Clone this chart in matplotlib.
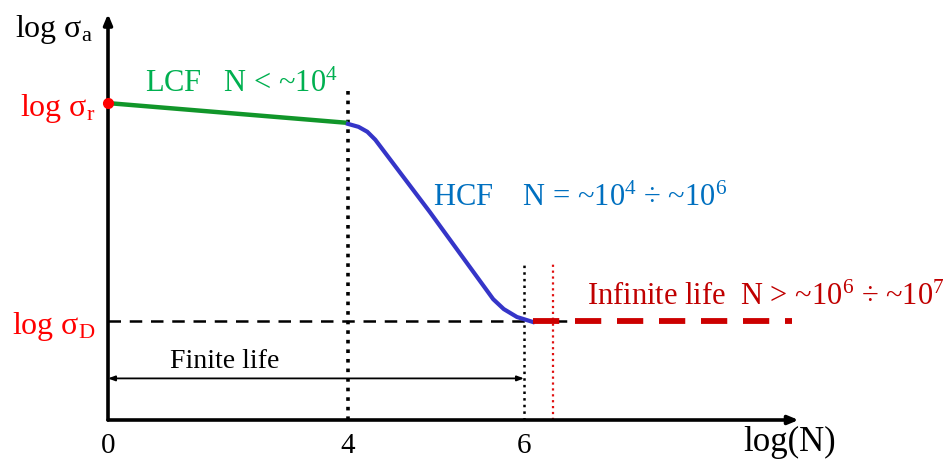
import numpy as np
import matplotlib
matplotlib.use('Agg')
import matplotlib.pyplot as plt

plt.rcParams['font.family'] = ['Liberation Serif', 'DejaVu Serif']
plt.rcParams['mathtext.fontset'] = 'custom'
plt.rcParams['mathtext.rm'] = 'Liberation Serif'
plt.rcParams['mathtext.it'] = 'Liberation Serif:italic'

# S-N curve, schematic (log N, log sigma_a)
lcf_logn = [0.0, 4.0]
lcf_logs = [3.2, 3.0]
hcf_logn = [4.0, 4.12, 4.22, 4.31, 4.93, 5.65, 5.77, 5.92, 6.10]
hcf_logs = [2.99, 2.96, 2.91, 2.83, 2.10, 1.22, 1.12, 1.04, 0.99]
inf_logn = [6.10, 9.05]
log_sigma_r = 3.2
log_sigma_D = 1.0

xtick_pos = [0, 4, 6]
xtick_lab = ['0', '4', '6']
ytick_pos = [log_sigma_r, log_sigma_D]
ytick_lab = [r'log σ$_{\mathregular{r}}$', r'log σ$_{\mathregular{D}}$']

# stretched (non-uniform) log N axis
kx = [-5, 0, 4, 6, 12]
kp = [-300, 0, 240, 416, 944]
fwd = lambda x: np.interp(x, kx, kp)
inv = lambda p: np.interp(p, kp, kx)

fig = plt.figure(figsize=(9.49, 4.64), dpi=100)
ax = fig.add_axes([108/949, 43/464, 702/949, 411/464])
ax.set_xscale('function', functions=(fwd, inv))
ax.set_xlim(0, 9.25)
ax.set_ylim(0, 4.15)
for s in ax.spines.values():
    s.set_visible(False)

# axes with arrow heads
ax.annotate('', xy=(0, 4.1), xytext=(0, 0), annotation_clip=False,
            arrowprops=dict(arrowstyle='-|>,head_length=0.6,head_width=0.25', lw=2.6, color='black', shrinkA=0, shrinkB=0))
ax.annotate('', xy=(9.12, 0), xytext=(0, 0), annotation_clip=False,
            arrowprops=dict(arrowstyle='-|>,head_length=0.6,head_width=0.25', lw=2.6, color='black', shrinkA=0, shrinkB=0))

ax.set_xticks(xtick_pos, xtick_lab, fontsize=21)
ax.set_yticks(ytick_pos, ytick_lab, fontsize=23)
ax.tick_params(axis='x', length=0, pad=9)
ax.tick_params(axis='y', length=0, pad=9, labelcolor='#ff0000')

# guide lines
ax.plot([0, 6.5], [log_sigma_D, log_sigma_D], color='black', lw=1.8, dashes=(5, 3.5))
ax.plot([4, 4], [0, 3.36], color='black', lw=2.6, ls=':')
ax.plot([6, 6], [0, 1.58], color='black', lw=1.8, ls=':')
ax.plot([6.33, 6.33], [0, 1.59], color='#e01010', lw=1.6, ls=':')

# curve
ax.plot(lcf_logn, lcf_logs, color='#11962a', lw=3.2, solid_capstyle='butt')
ax.plot(hcf_logn, hcf_logs, color='#3535c8', lw=3.0, solid_joinstyle='round')
ax.plot(inf_logn, [log_sigma_D, log_sigma_D], color='#cc0000', lw=4.2, dashes=(4.5, 2.7))
ax.plot([0], [log_sigma_r], 'o', color='#ff0000', ms=7, clip_on=False, zorder=5)

# finite life span
ax.annotate('', xy=(6, 0.42), xytext=(0, 0.42),
            arrowprops=dict(arrowstyle='<|-|>,head_length=0.4,head_width=0.15', lw=1.3, color='black', shrinkA=0, shrinkB=0))
ax.text(1.95, 0.54, 'Finite life', fontsize=20, ha='center', va='baseline')

ax.text(0.62, 3.32, r'LCF   N < ~10$^{4}$', fontsize=22, color='#00b050', va='baseline')
ax.text(4.97, 2.17, r'HCF    N = ~10$^{4}$ ÷ ~10$^{6}$', fontsize=22, color='#0070c0', va='baseline')
ax.text(6.72, 1.17, r'Infinite life  N > ~10$^{6}$ ÷ ~10$^{7}$', fontsize=22, color='#c00000', va='baseline')

ax.text(-0.9, 3.95, r'log σ$_{\mathregular{a}}$', fontsize=23, ha='center', va='center', clip_on=False)
ax.text(9.02, -0.22, 'log(N)', fontsize=25, ha='center', va='center', clip_on=False)

fig.savefig('out.png', dpi=100)
